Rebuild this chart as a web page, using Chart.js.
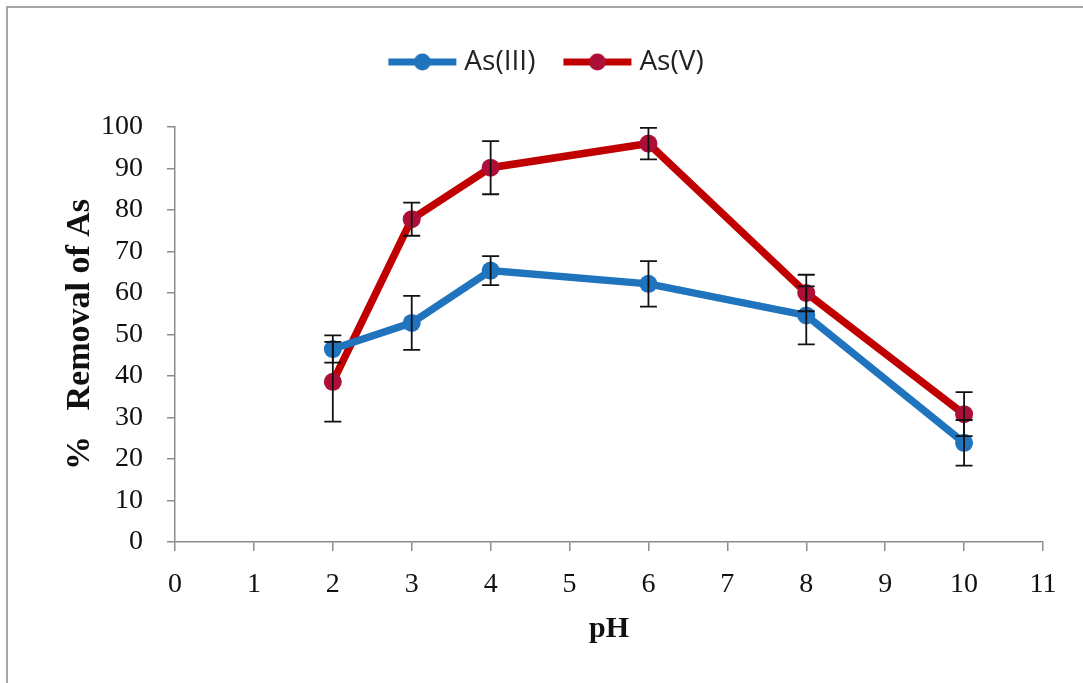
<!DOCTYPE html>
<html lang="en">
<head>
  <meta charset="UTF-8" />
  <title>% Removal of As vs pH</title>
  <script src="https://cdn.jsdelivr.net/npm/chart.js"></script>
  <style>
    body { margin: 0; background: #fff; }
    .frame {
      position: absolute; left: 6px; top: 6px; width: 1077px; height: 677px;
      border-top: 2px solid #a6a6a6; border-left: 2px solid #a6a6a6;
    }
    .wrap { position: absolute; left: 0; top: 0; width: 1083px; height: 683px; }
  </style>
</head>
<body>
  <div class="frame"></div>
  <div class="wrap"><canvas id="grafico" width="1083" height="683"></canvas></div>

  <script>
    // values
    const phValues = [2, 3, 4, 6, 8, 10];
    const as3Removal = [46.5, 52.8, 65.4, 62.2, 54.6, 23.9];
    const as3Err = [3.3, 6.5, 3.5, 5.5, 7.0, 5.5];
    const as5Removal = [38.6, 77.8, 90.2, 96.0, 60.0, 30.8];
    const as5Err = [9.6, 4.0, 6.4, 3.8, 4.4, 5.3];

    const blue = '#1f74bd';
    const red = '#c00000';
    const redMarker = '#ae0f36';
    const axisGrey = '#8c8c8c';
    const serif = "'Liberation Serif', 'Times New Roman', serif";

    function legendSample(lineColor, dotColor) {
      const c = document.createElement('canvas');
      c.width = 70; c.height = 20;
      const g = c.getContext('2d');
      g.strokeStyle = lineColor; g.lineWidth = 7;
      g.beginPath(); g.moveTo(1, 10); g.lineTo(69, 10); g.stroke();
      g.fillStyle = dotColor;
      g.beginPath(); g.arc(35, 10, 8.5, 0, Math.PI * 2); g.fill();
      return c;
    }
    const samples = [legendSample(blue, blue), legendSample(red, redMarker)];

    const errs = [as3Err, as5Err];
    const errorBars = {
      id: 'errorBars',
      afterDatasetsDraw(chart) {
        const ctx = chart.ctx;
        const y = chart.scales.y;
        ctx.save();
        ctx.strokeStyle = '#111';
        ctx.lineWidth = 1.8;
        chart.data.datasets.forEach((ds, i) => {
          const meta = chart.getDatasetMeta(i);
          meta.data.forEach((pt, j) => {
            const v = ds.data[j].y, e = errs[i][j];
            const top = y.getPixelForValue(v + e), bot = y.getPixelForValue(v - e);
            ctx.beginPath();
            ctx.moveTo(pt.x, top); ctx.lineTo(pt.x, bot);
            ctx.moveTo(pt.x - 8.5, top); ctx.lineTo(pt.x + 8.5, top);
            ctx.moveTo(pt.x - 8.5, bot); ctx.lineTo(pt.x + 8.5, bot);
            ctx.stroke();
          });
        });
        ctx.restore();
      }
    };

    // extra room between the legend and the plot
    const legendGap = {
      id: 'legendGap',
      beforeInit(chart) {
        const fit = chart.legend.fit;
        chart.legend.fit = function () {
          fit.bind(chart.legend)();
          this.height += 41;
        };
      }
    };

    const toPoints = arr => phValues.map((x, i) => ({ x: x, y: arr[i] }));

    new Chart(document.getElementById('grafico').getContext('2d'), {
      type: 'line',
      data: {
        datasets: [
          {
            label: 'As(III)',
            data: toPoints(as3Removal),
            borderColor: blue,
            backgroundColor: blue,
            borderWidth: 7.5,
            pointRadius: 9,
            pointBackgroundColor: blue,
            pointBorderWidth: 0,
            tension: 0
          },
          {
            label: 'As(V)',
            data: toPoints(as5Removal),
            borderColor: red,
            backgroundColor: red,
            borderWidth: 7.5,
            pointRadius: 9,
            pointBackgroundColor: redMarker,
            pointBorderWidth: 0,
            tension: 0
          }
        ]
      },
      options: {
        responsive: false,
        animation: false,
        layout: { padding: { left: 55, right: 40, top: 14, bottom: 30 } },
        plugins: {
          tooltip: { enabled: false },
          legend: {
            position: 'top',
            labels: {
              usePointStyle: true,
              pointStyleWidth: 56,
              padding: 34,
              color: '#222',
              font: { family: "'Open Sans', 'Liberation Sans', sans-serif", size: 28 },
              generateLabels(chart) {
                return chart.data.datasets.map((ds, i) => ({
                  text: ds.label,
                  pointStyle: samples[i],
                  fillStyle: ds.borderColor,
                  strokeStyle: ds.borderColor,
                  lineWidth: 0,
                  hidden: false,
                  datasetIndex: i,
                  fontColor: '#222'
                }));
              }
            }
          }
        },
        scales: {
          x: {
            type: 'linear',
            min: 0, max: 11,
            ticks: { stepSize: 1, padding: 17, color: '#111', font: { family: serif, size: 28 } },
            grid: { drawOnChartArea: false, drawTicks: true, tickLength: 9, color: axisGrey, lineWidth: 1.5 },
            border: { color: axisGrey, width: 1.5 },
            title: { display: true, text: 'pH', color: '#111', padding: { top: 4, bottom: 6 },
                     font: { family: serif, size: 30, weight: 'bold' } },
            afterFit(scale) { scale.height = 111; }
          },
          y: {
            min: 0, max: 100,
            ticks: { stepSize: 10, padding: 24, color: '#111', font: { family: serif, size: 28 } },
            grid: { drawOnChartArea: false, drawTicks: true, tickLength: 8, color: axisGrey, lineWidth: 1.5 },
            border: { color: axisGrey, width: 1.5 },
            title: { display: true, text: '%   Removal of As', color: '#111', padding: { top: 5, bottom: 4 },
                     font: { family: serif, size: 34, weight: 'bold' } },
            afterFit(scale) { scale.width = 120; }
          }
        }
      },
      plugins: [errorBars, legendGap]
    });
  </script>
</body>
</html>
